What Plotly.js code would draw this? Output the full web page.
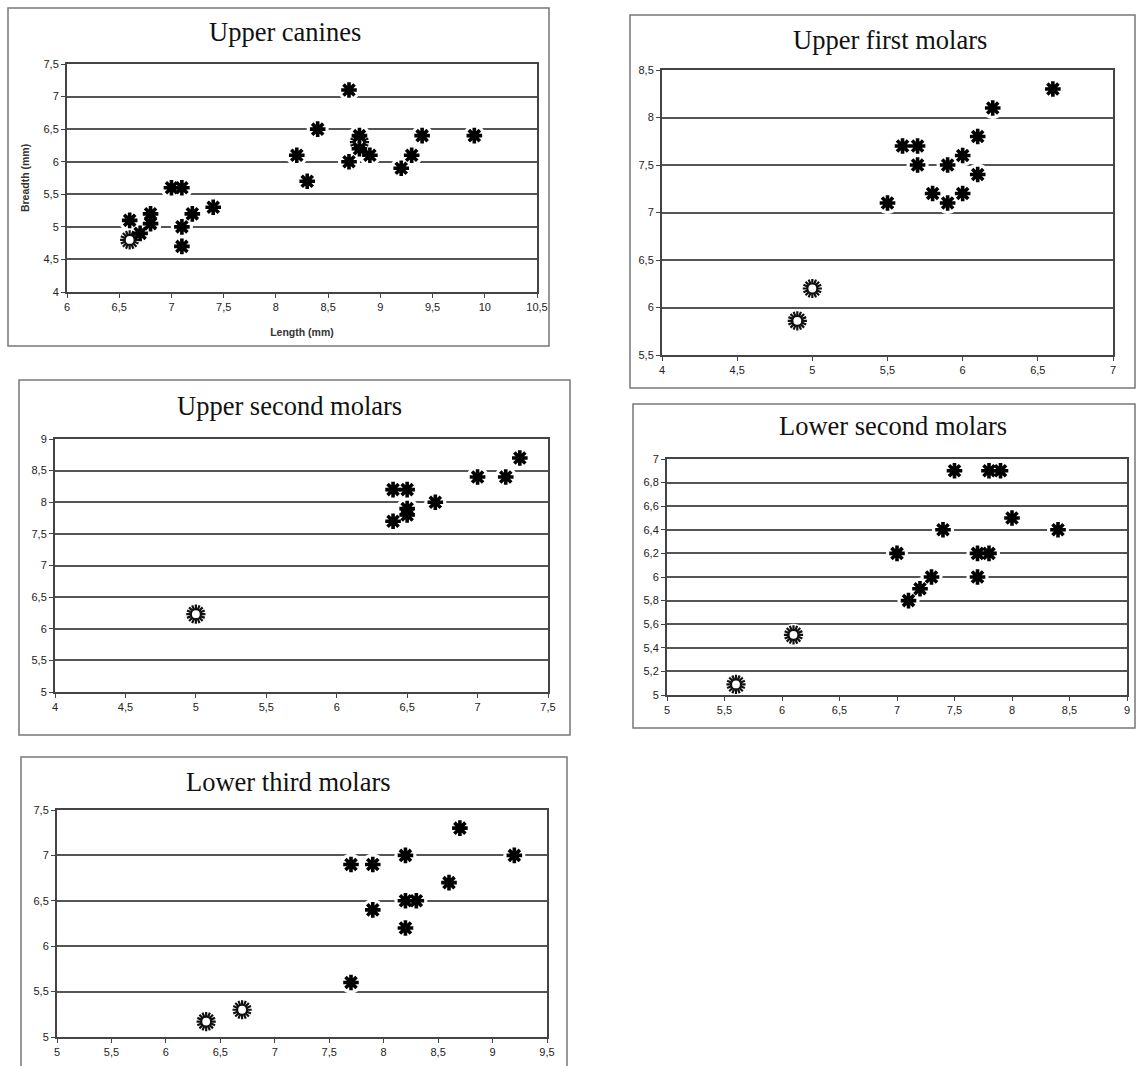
<!DOCTYPE html>
<html>
<head>
<meta charset="utf-8">
<script src="https://cdn.plot.ly/plotly-3.0.1.min.js"></script>
<style>html,body{margin:0;padding:0;background:#fff;}#chart{width:1136px;height:1066px;}</style>
</head>
<body>
<div id="chart"></div>
<script>
// ---------- Data ----------
// Upper canines
const canX    = [6.6, 6.7, 6.8, 6.8, 7.0, 7.1, 7.1, 7.1, 7.2, 7.4, 8.2, 8.3, 8.4, 8.7, 8.7, 8.8, 8.8, 8.9, 9.2, 9.3, 9.4, 9.9];
const canY    = [5.1, 4.9, 5.2, 5.05, 5.6, 5.6, 5.0, 4.7, 5.2, 5.3, 6.1, 5.7, 6.5, 7.1, 6.0, 6.4, 6.2, 6.1, 5.9, 6.1, 6.4, 6.4];
const canRefX = [6.6, 8.8];
const canRefY = [4.8, 6.3];
// Upper first molars
const m1X    = [6.6, 6.2, 6.1, 6.0, 6.1, 5.9, 5.7, 5.7, 5.6, 5.5, 5.8, 5.9, 6.0];
const m1Y    = [8.3, 8.1, 7.8, 7.6, 7.4, 7.5, 7.5, 7.7, 7.7, 7.1, 7.2, 7.1, 7.2];
const m1RefX = [5.0, 4.9];
const m1RefY = [6.2, 5.86];
// Upper second molars
const m2X    = [7.3, 7.2, 7.0, 6.7, 6.4, 6.5, 6.5, 6.5, 6.4];
const m2Y    = [8.7, 8.4, 8.4, 8.0, 8.2, 8.2, 7.9, 7.8, 7.7];
const m2RefX = [5.0];
const m2RefY = [6.23];
// Lower second molars
const lm2X    = [7.5, 7.8, 7.9, 8.0, 7.4, 8.4, 7.0, 7.7, 7.8, 7.3, 7.7, 7.2, 7.1];
const lm2Y    = [6.9, 6.9, 6.9, 6.5, 6.4, 6.4, 6.2, 6.2, 6.2, 6.0, 6.0, 5.9, 5.8];
const lm2RefX = [6.1, 5.6];
const lm2RefY = [5.51, 5.09];
// Lower third molars
const lm3X    = [7.7, 7.9, 7.9, 7.7, 8.7, 8.2, 9.2, 8.6, 8.2, 8.3, 8.2];
const lm3Y    = [6.9, 6.9, 6.4, 5.6, 7.3, 7.0, 7.0, 6.7, 6.5, 6.5, 6.2];
const lm3RefX = [6.37, 6.7];
const lm3RefY = [5.17, 5.3];

const titles = ["Upper canines", "Upper first molars", "Upper second molars", "Lower second molars", "Lower third molars"];
const xRanges = [[6, 10.5], [4, 7], [4, 7.5], [5, 9], [5, 9.5]];
const yRanges = [[4, 7.5], [5.5, 8.5], [5, 9], [5, 7], [5, 7.5]];
const yDticks = [0.5, 0.5, 0.5, 0.2, 0.5];

// ---------- Layout geometry (pixels) ----------
const W = 1136, H = 1066;
const plots = [ // plot area x0,x1,y0,y1
  [67, 537, 64, 292],
  [662, 1113, 70, 355],
  [55, 548, 439, 692],
  [667, 1127, 459, 695],
  [57, 547, 810, 1037]
];
const boxes = [ // outer frame x0,x1,y0,y1
  [8, 549, 8, 346],
  [630, 1135, 15, 388],
  [19, 570, 380, 735],
  [633, 1135, 404, 728],
  [21, 567, 757, 1070]
];
const titleX = [285, 890, 289, 893, 288];
const titleY = [32, 40, 406, 426, 782];

const starSets = [[canX, canY], [m1X, m1Y], [m2X, m2Y], [lm2X, lm2Y], [lm3X, lm3Y]];
const refSets  = [[canRefX, canRefY], [m1RefX, m1RefY], [m2RefX, m2RefY], [lm2RefX, lm2RefY], [lm3RefX, lm3RefY]];

const tickFont = {family: 'Liberation Sans, Arial, sans-serif', size: 11, color: '#222'};
const traces = [];
const layout = {
  width: W, height: H,
  margin: {l: 0, r: 0, t: 0, b: 0},
  paper_bgcolor: '#fff', plot_bgcolor: '#fff',
  showlegend: false,
  separators: ', ',
  font: {family: 'Liberation Sans, Arial, sans-serif', size: 11, color: '#222'},
  shapes: [], annotations: []
};

for (let i = 0; i < 5; i++) {
  const n = i === 0 ? '' : String(i + 1);
  const xa = 'x' + n, ya = 'y' + n;
  const [x0, x1, y0, y1] = plots[i];
  layout['xaxis' + n] = {
    domain: [x0 / W, x1 / W], anchor: ya, range: xRanges[i], dtick: 0.5, tick0: 0,
    showgrid: false, zeroline: false, showline: true, mirror: true,
    linecolor: '#444', linewidth: 2, ticks: 'outside', ticklen: 4, tickcolor: '#444',
    tickfont: tickFont, fixedrange: true
  };
  layout['yaxis' + n] = {
    domain: [1 - y1 / H, 1 - y0 / H], anchor: xa, range: yRanges[i], dtick: yDticks[i], tick0: 0,
    showgrid: true, gridcolor: '#555', gridwidth: 2, zeroline: false, showline: true, mirror: true,
    linecolor: '#444', linewidth: 2, ticks: 'outside', ticklen: 4, tickcolor: '#444',
    tickfont: tickFont, fixedrange: true
  };
  const [bx0, bx1, by0, by1] = boxes[i];
  layout.shapes.push({type: 'rect', xref: 'paper', yref: 'paper',
    x0: bx0 / W, x1: bx1 / W, y0: 1 - by1 / H, y1: 1 - by0 / H,
    line: {color: '#777', width: 1.5}, layer: 'below'});
  layout.annotations.push({xref: 'paper', yref: 'paper', x: titleX[i] / W, y: 1 - titleY[i] / H,
    xanchor: 'center', yanchor: 'middle', showarrow: false, text: titles[i],
    font: {family: 'Liberation Serif, Times New Roman, serif', size: 26.5, color: '#111'}});

  const sx = starSets[i][0], sy = starSets[i][1];
  const rx = refSets[i][0], ry = refSets[i][1];
  // white halos (cut the gridlines around the markers, as in the original)
  traces.push({type: 'scatter', mode: 'markers', xaxis: xa, yaxis: ya,
    x: sx.concat(rx), y: sy.concat(ry), hoverinfo: 'skip',
    marker: {symbol: 'circle', size: 22, color: '#fff', line: {width: 0}}});
  // reference (sun-like) markers: 16 rays and a black ring with a white centre
  traces.push({type: 'scatter', mode: 'markers', xaxis: xa, yaxis: ya, x: rx, y: ry,
    marker: {symbol: 'asterisk', size: 16, color: '#111', line: {color: '#111', width: 2.2}}});
  traces.push({type: 'scatter', mode: 'markers', xaxis: xa, yaxis: ya, x: rx, y: ry,
    marker: {symbol: 'asterisk', size: 16, angle: 22.5, color: '#111', line: {color: '#111', width: 2.2}}});
  traces.push({type: 'scatter', mode: 'markers', xaxis: xa, yaxis: ya, x: rx, y: ry,
    marker: {symbol: 'circle', size: 10, color: '#fff', line: {color: '#111', width: 2.2}}});
  // asterisk markers
  traces.push({type: 'scatter', mode: 'markers', xaxis: xa, yaxis: ya, x: sx, y: sy,
    marker: {symbol: 'asterisk', size: 13, color: '#000', line: {color: '#000', width: 3.6}}});
}

layout.xaxis.title = {text: '<b>Length (mm)</b>', font: {family: 'Liberation Sans, Arial, sans-serif', size: 10.5, color: '#333'}, standoff: 16};
layout.yaxis.title = {text: '<b>Breadth (mm)</b>', font: {family: 'Liberation Sans, Arial, sans-serif', size: 10.5, color: '#333'}, standoff: 12};

Plotly.newPlot('chart', traces, layout, {displayModeBar: false, staticPlot: true});
</script>
</body>
</html>
